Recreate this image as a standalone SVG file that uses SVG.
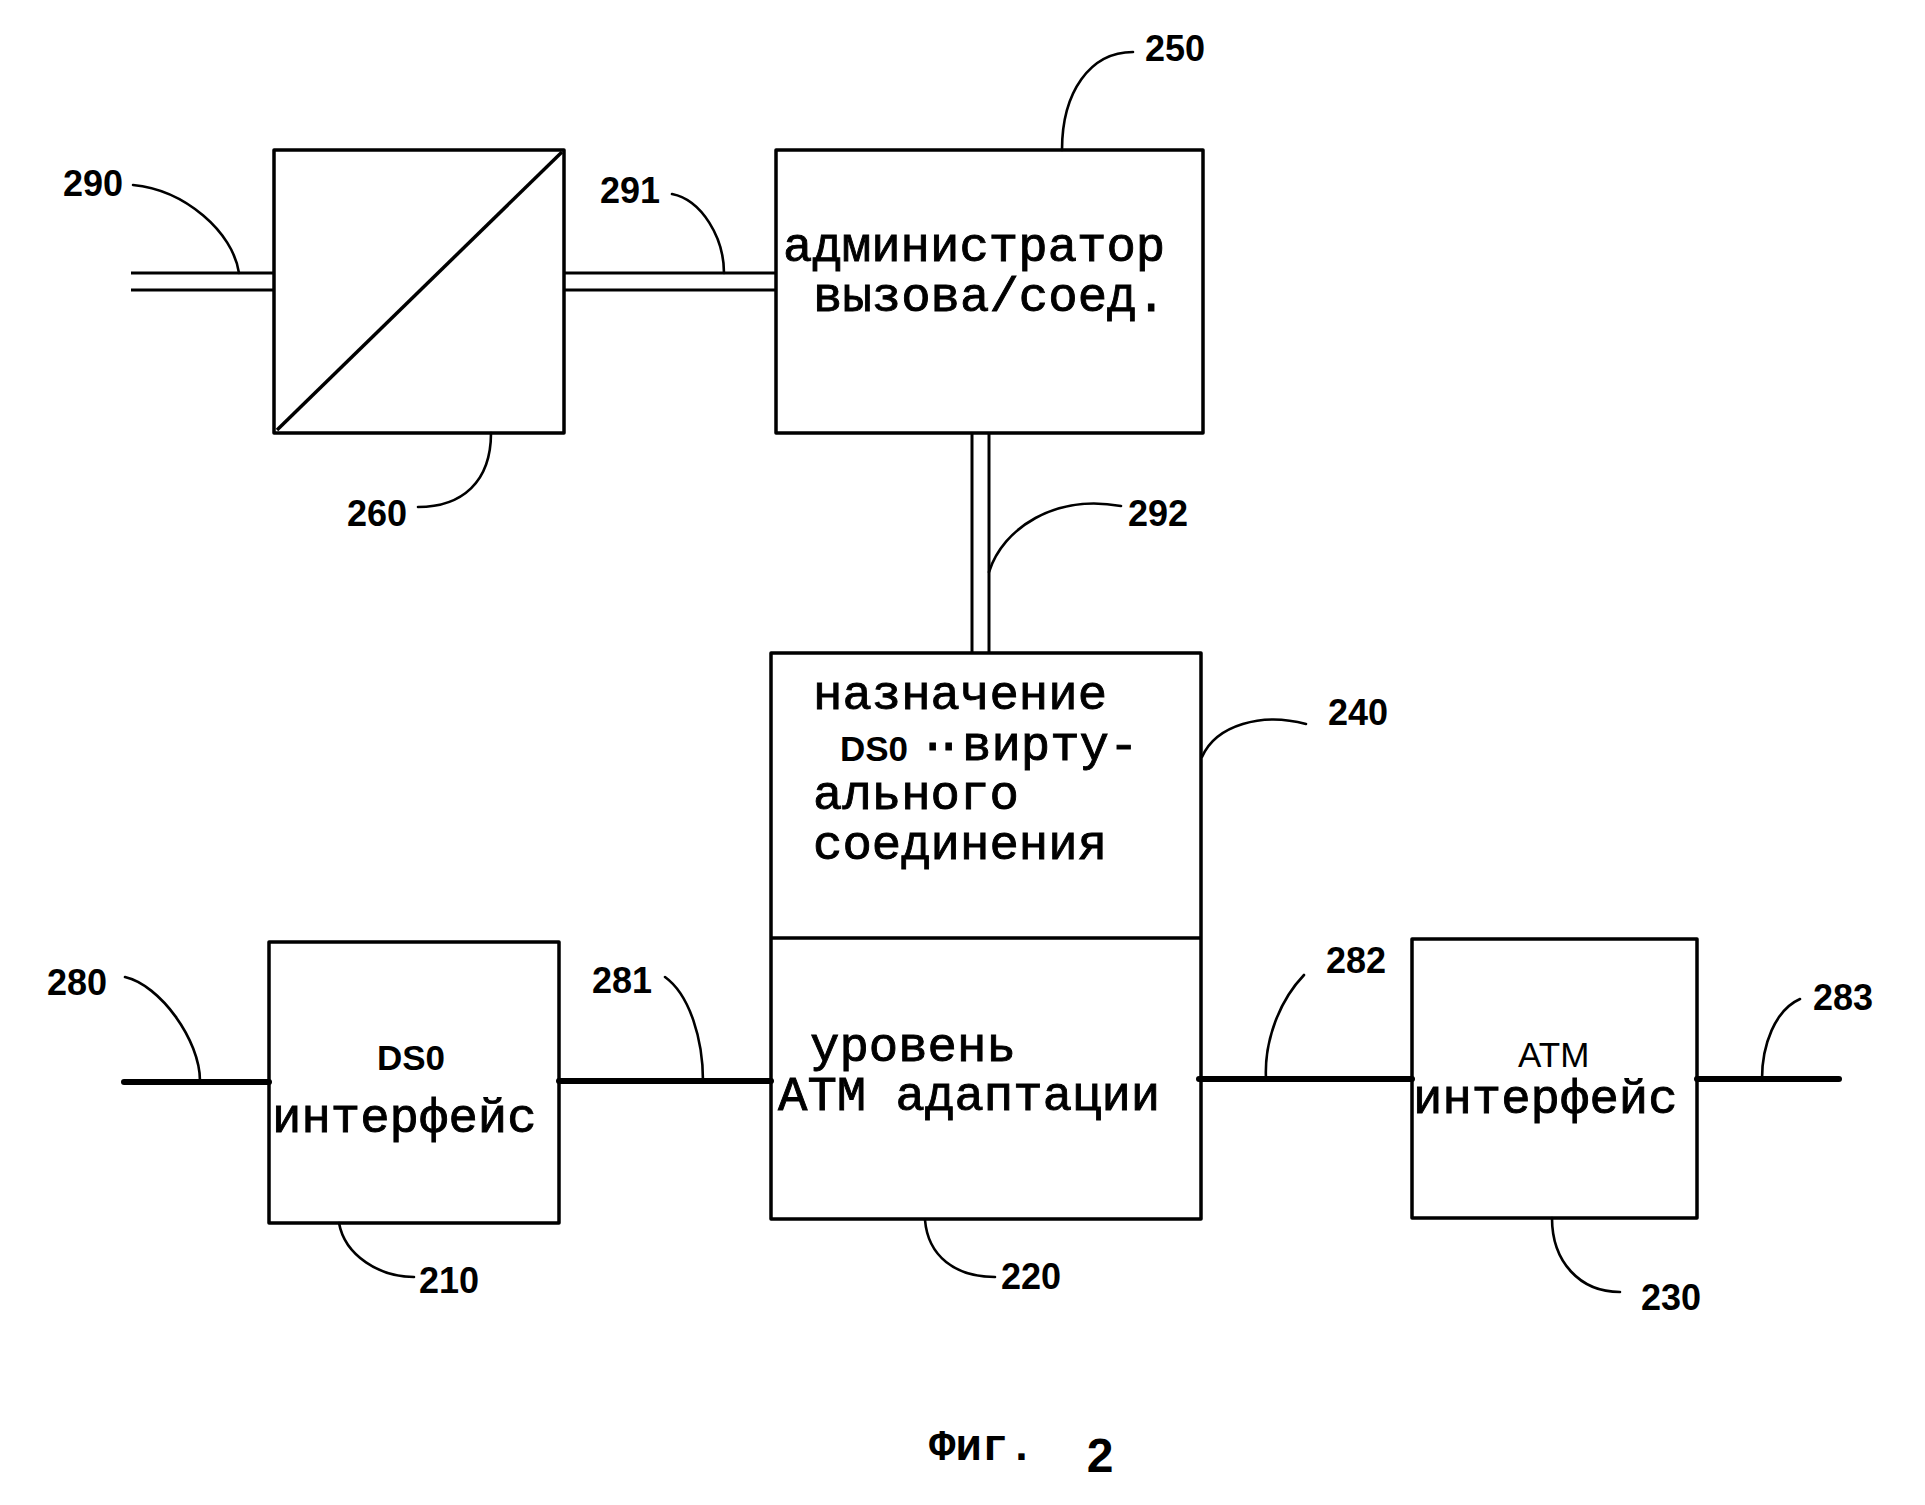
<svg xmlns="http://www.w3.org/2000/svg" width="1925" height="1505" viewBox="0 0 1925 1505">
<style>
.box{fill:none;stroke:#000;stroke-width:3.5;stroke-linejoin:round}
.dbl{fill:none;stroke:#000;stroke-width:3}
.thick{fill:none;stroke:#000;stroke-width:6;stroke-linecap:round}
.lead{fill:none;stroke:#000;stroke-width:2.6;stroke-linecap:round}
.lbl{font-family:"Liberation Sans Narrow","Liberation Sans",Arial,sans-serif;font-weight:bold;font-size:36px;fill:#000;text-anchor:middle}
.txt{font-family:"Liberation Mono","Courier New",monospace;font-size:49px;fill:#000;stroke:#000;stroke-width:0.9}
.ds{font-family:"Liberation Sans Narrow","Liberation Sans",Arial,sans-serif;font-size:35px;font-weight:bold;fill:#000;stroke:none}
</style>
<rect width="1925" height="1505" fill="#fff"/>
<g id="connectors">
  <line class="dbl" x1="131" y1="273" x2="274" y2="273"/>
  <line class="dbl" x1="131" y1="290" x2="274" y2="290"/>
  <line class="dbl" x1="564" y1="273" x2="776" y2="273"/>
  <line class="dbl" x1="564" y1="290" x2="776" y2="290"/>
  <line class="dbl" x1="972" y1="433" x2="972" y2="653"/>
  <line class="dbl" x1="989" y1="433" x2="989" y2="653"/>
  <line class="thick" x1="124" y1="1082" x2="269" y2="1082"/>
  <line class="thick" x1="559" y1="1081" x2="771" y2="1081"/>
  <line class="thick" x1="1199" y1="1079" x2="1412" y2="1079"/>
  <line class="thick" x1="1697" y1="1079" x2="1839" y2="1079"/>
</g>
<g id="leaders">
  <path class="lead" d="M133,185 C185,190 233,232 239,273"/>
  <path class="lead" d="M672,194 C702,200 724,238 724,273"/>
  <path class="lead" d="M491,433 C491,482 462,507 418,507"/>
  <path class="lead" d="M1133,52 C1090,52 1062,92 1062,150"/>
  <path class="lead" d="M1121,506 C1055,494 1003,528 989,572"/>
  <path class="lead" d="M1306,724 C1262,712 1216,725 1202,757"/>
  <path class="lead" d="M125,977 C160,985 200,1040 200,1081"/>
  <path class="lead" d="M665,977 C690,995 703,1040 703,1081"/>
  <path class="lead" d="M339,1223 C345,1256 380,1277 414,1277"/>
  <path class="lead" d="M925,1220 C928,1256 955,1277 995,1277"/>
  <path class="lead" d="M1304,975 C1280,1000 1264,1040 1266,1079"/>
  <path class="lead" d="M1552,1218 C1552,1262 1580,1292 1620,1292"/>
  <path class="lead" d="M1800,999 C1775,1010 1762,1045 1762,1079"/>
</g>
<g id="n260">
  <rect class="box" x="274" y="150" width="290" height="283"/>
  <line class="box" x1="277" y1="430" x2="562" y2="152"/>
  <text class="lbl" x="377" y="526">260</text>
</g>
<g id="n250">
  <rect class="box" x="776" y="150" width="427" height="283"/>
  <text class="txt"><tspan x="783" y="261">администратор</tspan><tspan x="813" y="311">вызова/соед.</tspan></text>
  <text class="lbl" x="1175" y="61">250</text>
</g>
<g id="n240">
  <rect class="box" x="771" y="653" width="430" height="566"/>
  <line class="box" x1="771" y1="938" x2="1201" y2="938"/>
  <text class="txt"><tspan x="813" y="709">назначение</tspan><tspan class="ds" x="840" y="761">DS0</tspan><tspan x="918" y="760">·</tspan><tspan x="934" y="760">·</tspan><tspan x="962" y="760">вирту-</tspan><tspan x="813" y="809">ального</tspan><tspan x="813" y="859">соединения</tspan></text>
  <text class="lbl" x="1358" y="725">240</text>
</g>
<g id="n220">
  <text class="txt"><tspan x="810" y="1061">уровень</tspan><tspan x="778" y="1110">ATM адаптации</tspan></text>
  <text class="lbl" x="1031" y="1289">220</text>
</g>
<g id="n210">
  <rect class="box" x="269" y="942" width="290" height="281"/>
  <text class="txt"><tspan class="ds" x="377" y="1070">DS0</tspan><tspan x="272" y="1132">интерфейс</tspan></text>
  <text class="lbl" x="449" y="1293">210</text>
</g>
<g id="n230">
  <rect class="box" x="1412" y="939" width="285" height="279"/>
  <text class="txt"><tspan class="ds" x="1518" y="1067" style="font-weight:normal">ATM</tspan><tspan x="1413" y="1113">интерфейс</tspan></text>
  <text class="lbl" x="1671" y="1310">230</text>
</g>
<g id="labels">
  <text class="lbl" x="93" y="196">290</text>
  <text class="lbl" x="630" y="203">291</text>
  <text class="lbl" x="1158" y="526">292</text>
  <text class="lbl" x="77" y="995">280</text>
  <text class="lbl" x="622" y="993">281</text>
  <text class="lbl" x="1356" y="973">282</text>
  <text class="lbl" x="1843" y="1010">283</text>
</g>
<g id="caption">
  <text x="929" y="1460" style="font-family:'Liberation Mono','Courier New',monospace;font-size:44px;font-weight:bold">Фиг.</text>
  <text x="1100" y="1472" text-anchor="middle" style="font-family:'Liberation Sans',Arial,sans-serif;font-size:48px;font-weight:bold">2</text>
</g>
</svg>
